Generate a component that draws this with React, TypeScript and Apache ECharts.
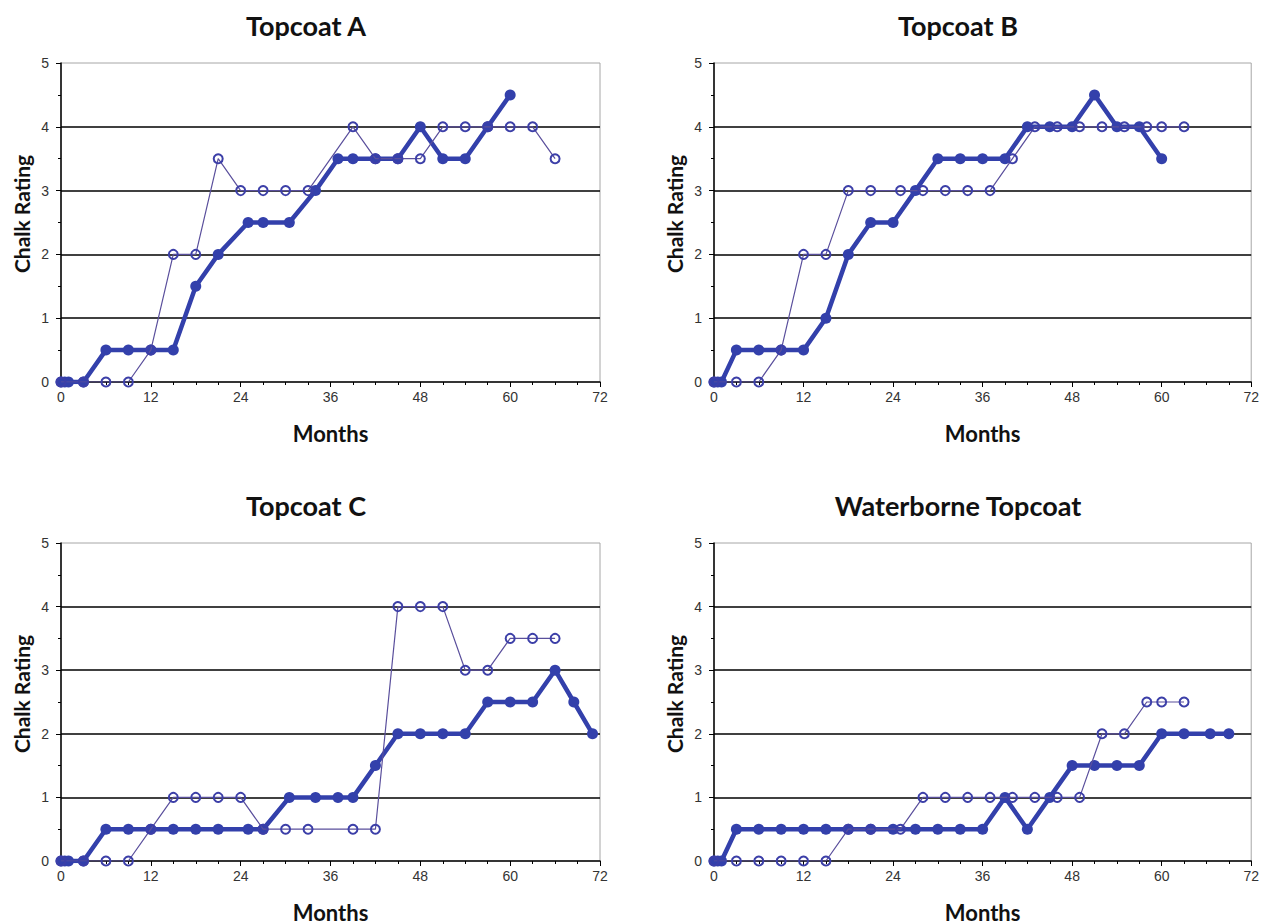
import React, { useEffect, useRef } from "react";
import * as echarts from "echarts";

// ---- Data ----
const panelTitles = ["Topcoat A", "Topcoat B", "Topcoat C", "Waterborne Topcoat"];
const xTickMonths = [0, 12, 24, 36, 48, 60, 72];
const yTicks = [0, 1, 2, 3, 4, 5];
const yAxisTitle = "Chalk Rating";
const xAxisTitle = "Months";

// Test months (filled series, panels A & C)
const monthsFilledAC = [0, 0.5, 1, 3, 6, 9, 12, 15, 18, 21, 25, 27, 30.5, 34, 37, 39, 42, 45, 48, 51, 54, 57, 60, 63, 66, 68.5, 71];
// Test months (open series, panels A & C)
const monthsOpenAC = [0, 3, 6, 9, 12, 15, 18, 21, 24, 27, 30, 33, 39, 42, 45, 48, 51, 54, 57, 60, 63, 66];
// Test months (filled series, panels B & D)
const monthsFilledBD = [0, 0.5, 1, 3, 6, 9, 12, 15, 18, 21, 24, 27, 30, 33, 36, 39, 42, 45, 48, 51, 54, 57, 60, 63, 66.5, 69];
// Test months (open series, panels B & D)
const monthsOpenBD = [0, 3, 6, 9, 12, 15, 18, 21, 25, 28, 31, 34, 37, 40, 43, 46, 49, 52, 55, 58, 60, 63];

const filledA = [0, 0, 0, 0, 0.5, 0.5, 0.5, 0.5, 1.5, 2, 2.5, 2.5, 2.5, 3, 3.5, 3.5, 3.5, 3.5, 4, 3.5, 3.5, 4, 4.5];
const openA = [0, 0, 0, 0, 0.5, 2, 2, 3.5, 3, 3, 3, 3, 4, 3.5, 3.5, 3.5, 4, 4, 4, 4, 4, 3.5];

const filledB = [0, 0, 0, 0.5, 0.5, 0.5, 0.5, 1, 2, 2.5, 2.5, 3, 3.5, 3.5, 3.5, 3.5, 4, 4, 4, 4.5, 4, 4, 3.5];
const openB = [0, 0, 0, 0.5, 2, 2, 3, 3, 3, 3, 3, 3, 3, 3.5, 4, 4, 4, 4, 4, 4, 4, 4];

const filledC = [0, 0, 0, 0, 0.5, 0.5, 0.5, 0.5, 0.5, 0.5, 0.5, 0.5, 1, 1, 1, 1, 1.5, 2, 2, 2, 2, 2.5, 2.5, 2.5, 3, 2.5, 2];
const openC = [0, 0, 0, 0, 0.5, 1, 1, 1, 1, 0.5, 0.5, 0.5, 0.5, 0.5, 4, 4, 4, 3, 3, 3.5, 3.5, 3.5];

const filledD = [0, 0, 0, 0.5, 0.5, 0.5, 0.5, 0.5, 0.5, 0.5, 0.5, 0.5, 0.5, 0.5, 0.5, 1, 0.5, 1, 1.5, 1.5, 1.5, 1.5, 2, 2, 2, 2];
const openD = [0, 0, 0, 0, 0, 0, 0.5, 0.5, 0.5, 1, 1, 1, 1, 1, 1, 1, 1, 2, 2, 2.5, 2.5, 2.5];

const zip = (xs: number[], ys: number[]) => ys.map((y, i) => [xs[i], y]);

const panelData = [
  { filled: zip(monthsFilledAC, filledA), open: zip(monthsOpenAC, openA) },
  { filled: zip(monthsFilledBD, filledB), open: zip(monthsOpenBD, openB) },
  { filled: zip(monthsFilledAC, filledC), open: zip(monthsOpenAC, openC) },
  { filled: zip(monthsFilledBD, filledD), open: zip(monthsOpenBD, openD) },
];

// ---- Layout ----
const grids = [
  { left: 61, top: 63, width: 539, height: 319 },
  { left: 714, top: 63, width: 540, height: 319 },
  { left: 61, top: 543, width: 539, height: 319 },
  { left: 714, top: 543, width: 540, height: 319 },
];
const titlePos = [
  [306, 25],
  [958, 25],
  [306, 505],
  [958, 505],
];
const yNamePos = [
  [21, 214],
  [674, 214],
  [21, 694],
  [674, 694],
];

const FILLED = "#3340ab";
const OPEN_LINE = "#5a4f9c";
const OPEN_MARK = "#3c3fa8";

export default function App() {
  const ref = useRef<HTMLDivElement>(null);
  useEffect(() => {
    if (!ref.current) return;
    const chart = echarts.init(ref.current, undefined, { renderer: "svg" });
    const option: any = {
      animation: false,
      backgroundColor: "#ffffff",
      grid: grids.map((g) => ({ ...g, show: true, borderColor: "#a6a6a6", borderWidth: 1, containLabel: false })),
      graphic: [
        ...panelTitles.map((t, i) => ({
          type: "text",
          x: titlePos[i][0],
          y: titlePos[i][1],
          style: {
            text: t,
            textAlign: "center",
            textVerticalAlign: "middle",
            fontFamily: "Lato",
            fontWeight: "bold",
            fontSize: 27,
            fill: "#111",
          },
        })),
        ...yNamePos.map((p) => ({
          type: "text",
          x: p[0],
          y: p[1],
          rotation: Math.PI / 2,
          style: {
            text: yAxisTitle,
            textAlign: "center",
            textVerticalAlign: "middle",
            fontFamily: "Lato",
            fontWeight: "bold",
            fontSize: 21,
            fill: "#111",
          },
        })),
      ],
      xAxis: grids.map((_, i) => ({
        gridIndex: i,
        type: "value",
        min: 0,
        max: 72,
        interval: 12,
        name: xAxisTitle,
        nameLocation: "middle",
        nameGap: 40,
        nameTextStyle: { fontFamily: "Lato", fontWeight: "bold", fontSize: 22, color: "#111" },
        axisLine: { show: true, onZero: false, lineStyle: { color: "#000", width: 1.5 } },
        axisTick: { show: true, length: 5, lineStyle: { color: "#000" } },
        minorTick: { show: true, splitNumber: 4, length: 3, lineStyle: { color: "#000" } },
        splitLine: { show: false },
        axisLabel: {
          color: "#333",
          fontSize: 14,
          fontFamily: "Liberation Sans",
          margin: 8,
          formatter: (v: number) => (xTickMonths.includes(v) ? String(v) : ""),
        },
      })),
      yAxis: grids.map((_, i) => ({
        gridIndex: i,
        type: "value",
        min: 0,
        max: 5,
        interval: 1,
        axisLine: { show: true, onZero: false, lineStyle: { color: "#000", width: 1.5 } },
        axisTick: { show: true, length: 5, lineStyle: { color: "#000" } },
        minorTick: { show: true, splitNumber: 2, length: 3, lineStyle: { color: "#000" } },
        splitLine: { show: true, showMinLine: false, showMaxLine: false, lineStyle: { color: "#000", width: 1.5 } },
        axisLabel: {
          color: "#333",
          fontSize: 14,
          fontFamily: "Liberation Sans",
          margin: 12,
          formatter: (v: number) => (yTicks.includes(v) ? String(v) : ""),
        },
      })),
      series: panelData.flatMap((p, i) => [
        {
          type: "line",
          xAxisIndex: i,
          yAxisIndex: i,
          data: p.filled,
          symbol: "circle",
          symbolSize: 11,
          lineStyle: { color: FILLED, width: 4.5 },
          itemStyle: { color: FILLED },
          z: 3,
        },
        {
          type: "line",
          xAxisIndex: i,
          yAxisIndex: i,
          data: p.open,
          symbol: "circle",
          symbolSize: 9,
          lineStyle: { color: OPEN_LINE, width: 1.2 },
          itemStyle: { color: "rgba(255,255,255,0)", borderColor: OPEN_MARK, borderWidth: 2 },
          z: 4,
        },
      ]),
    };
    chart.setOption(option);
    return () => chart.dispose();
  }, []);
  return (
    <div
      ref={ref}
      style={{ position: "fixed", left: 0, top: 0, width: 1262, height: 924, background: "#fff" }}
    />
  );
}
